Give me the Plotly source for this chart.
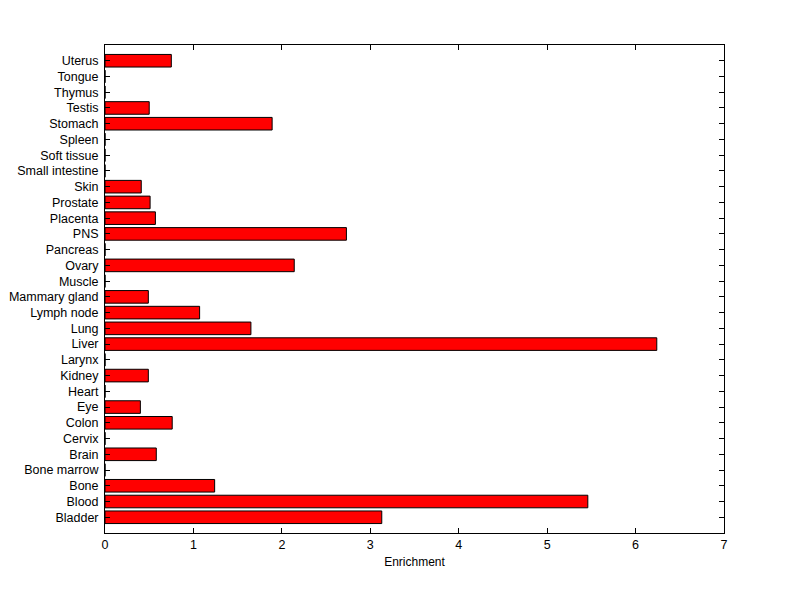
import plotly.graph_objects as go

categories = ["Bladder", "Blood", "Bone", "Bone marrow", "Brain", "Cervix", "Colon", "Eye",
              "Heart", "Kidney", "Larynx", "Liver", "Lung", "Lymph node", "Mammary gland",
              "Muscle", "Ovary", "Pancreas", "PNS", "Placenta", "Prostate", "Skin",
              "Small intestine", "Soft tissue", "Spleen", "Stomach", "Testis", "Thymus",
              "Tongue", "Uterus"]
enrichment = [3.13, 5.46, 1.24, 0, 0.58, 0, 0.76, 0.40,
              0, 0.49, 0, 6.24, 1.65, 1.07, 0.49,
              0, 2.14, 0, 2.73, 0.57, 0.51, 0.41,
              0, 0, 0, 1.89, 0.50, 0,
              0, 0.75]
x_ticks = [0, 1, 2, 3, 4, 5, 6, 7]

fig = go.Figure(go.Bar(
    x=enrichment, y=categories, orientation="h", width=0.8,
    marker=dict(color="#ff0000", line=dict(color="black", width=1)),
))

font = dict(family="Liberation Sans, Arial, sans-serif", size=12.5, color="black")
fig.update_layout(
    width=800, height=599,
    margin=dict(l=97, r=84, t=37, b=74),
    paper_bgcolor="white", plot_bgcolor="white",
    font=font, showlegend=False,
    bargap=0.2,
)
fig.update_xaxes(
    range=[0, 7], tickvals=x_ticks, ticks="inside", ticklen=5, tickcolor="black",
    showline=True, linecolor="black", linewidth=1, mirror="allticks",
    showgrid=False, zeroline=False, automargin=False,
    title=dict(text="Enrichment", font=dict(family=font["family"], size=12, color="black"), standoff=6),
)
fig.update_yaxes(
    type="category", categoryorder="array", categoryarray=categories,
    tickmode="array", tickvals=categories, ticktext=categories,
    range=[-1, 30], ticks="inside", ticklen=5, tickcolor="black",
    showline=True, linecolor="black", linewidth=1, mirror="allticks",
    showgrid=False, zeroline=False, ticklabelstandoff=3, automargin=False,
)

fig.write_html("out.html")
